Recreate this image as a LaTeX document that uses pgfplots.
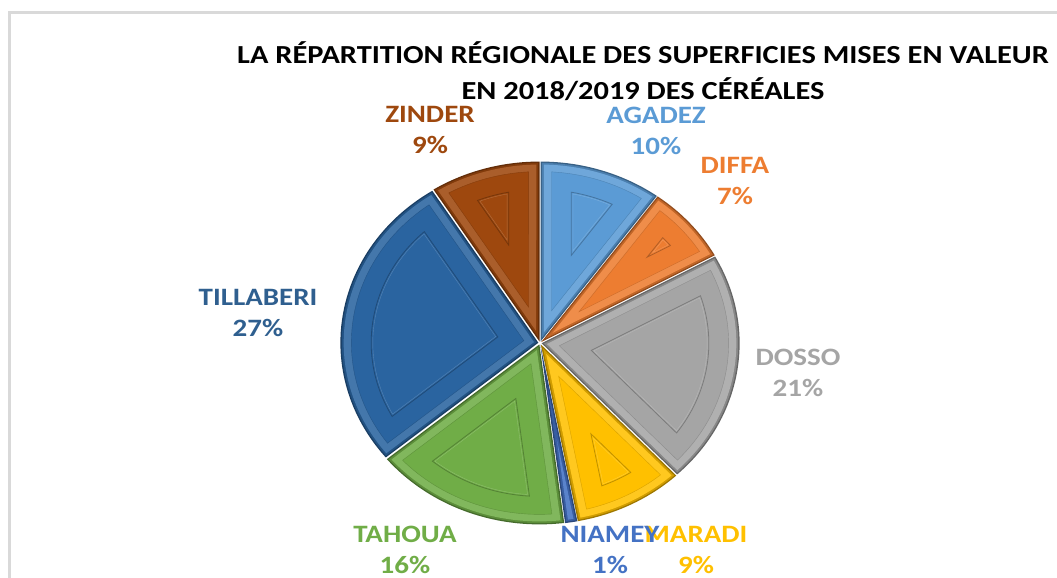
\documentclass[border=0pt]{standalone}
\usepackage{fontspec}
\setmainfont{Carlito}
\usepackage{pgfplots}
\usepackage{pgfplotstable}
\pgfplotsset{compat=1.18}

\definecolor{cAgadez}{HTML}{5B9BD5}
\definecolor{cDiffa}{HTML}{ED7D31}
\definecolor{cDosso}{HTML}{A5A5A5}
\definecolor{cMaradi}{HTML}{FFC000}
\definecolor{cNiamey}{HTML}{4472C4}
\definecolor{cTahoua}{HTML}{70AD47}
\definecolor{cTillaberi}{HTML}{2A64A0}
\definecolor{cZinder}{HTML}{9E480E}
\definecolor{tTillaberi}{HTML}{2F5F8F}
\definecolor{frame}{HTML}{D9D9D9}

\tikzset{lab/.style={font=\bfseries\fontsize{25}{31}\selectfont, align=center, xscale=1.16, inner sep=0pt}}

% regions in clockwise order from 12 o'clock, share in percent
\pgfplotstableread{
name      value col
AGADEZ    10    cAgadez
DIFFA     7     cDiffa
DOSSO     21    cDosso
MARADI    9     cMaradi
NIAMEY    1     cNiamey
TAHOUA    16    cTahoua
TILLABERI 27    cTillaberi
ZINDER    9     cZinder
}\piedata

\def\PieR{180}
% wedge between angles #1 (larger) and #2 (smaller), inset by #3 pt, style #4
\newcommand\wedgepath[4]{%
  \pgfmathsetmacro\wHw{(#1-#2)/2}%
  \pgfmathsetmacro\wMid{(#1+#2)/2}%
  \pgfmathsetmacro\wR{\PieR-#3}%
  \pgfmathsetmacro\wAp{#3/sin(\wHw)}%
  \pgfmathsetmacro\wDa{asin(#3/\wR)}%
  \pgfmathsetmacro\wEa{#2+\wDa}%
  \pgfmathsetmacro\wSa{#1-\wDa}%
  \pgfmathsetmacro\wOk{((\wAp<\wR-12)&&(\wEa<\wSa))?1:0}%
  \ifdim\wOk pt>0.5pt
    \path[#4] (\wMid:\wAp pt) -- (\wEa:\wR pt) arc[start angle=\wEa, end angle=\wSa, radius=\wR pt] -- cycle;
  \fi
}

\begin{document}
\begin{tikzpicture}
\begin{axis}[
  x=1pt, y=1pt,
  xmin=0, xmax=1057, ymin=0, ymax=578,
  hide axis, clip=false,
]
\coordinate (BL) at (axis cs:0,0);
\coordinate (TR) at (axis cs:1057,578);
% chart frame
\draw[frame, line width=2.5pt] (axis cs:9.5,-20) -- (axis cs:9.5,565.5) -- (axis cs:1090,565.5);

\pgfplotsextra{%
 \begin{scope}[shift={(axis cs:540,235)}, xscale=1.1]
  \gdef\cum{0}%
  \pgfplotsforeachungrouped \i in {0,...,7}{%
    \pgfplotstablegetelem{\i}{value}\of\piedata
    \let\sliceval\pgfplotsretval
    \pgfplotstablegetelem{\i}{col}\of\piedata
    \colorlet{base}{\pgfplotsretval}%
    \pgfmathsetmacro\aS{90-\cum*3.6}%
    \pgfmathsetmacro\aE{90-(\cum+\sliceval)*3.6}%
    \pgfmathsetmacro\cum{\cum+\sliceval}%
    \pgfmathsetmacro\aM{(\aS+\aE)/2}%
    \begin{scope}[shift={(\aM:1.5pt)}]
      \wedgepath{\aS}{\aE}{0}{fill=base!62!black}
      \wedgepath{\aS}{\aE}{1.3}{fill=base!82!black}
      \wedgepath{\aS}{\aE}{3}{fill=base!88!white}
      \wedgepath{\aS}{\aE}{10}{fill=base, draw=base!85!black, line width=0.4pt}
      \wedgepath{\aS}{\aE}{28}{draw=base!75!black, line width=0.8pt}
      \wedgepath{\aS}{\aE}{29.5}{draw=base!80!white, line width=0.4pt}
    \end{scope}
  }%
 \end{scope}
}

% title
\node[font=\bfseries\fontsize{26}{36}\selectfont, align=center, xscale=1.17, inner sep=0pt]
  at (axis cs:643,507) {LA RÉPARTITION RÉGIONALE DES SUPERFICIES MISES EN VALEUR\\EN 2018/2019 DES CÉRÉALES};

% data labels
\node[lab, text=cAgadez]    at (axis cs:656,447.5) {AGADEZ\\10\%};
\node[lab, text=cDiffa]     at (axis cs:735,396.5) {DIFFA\\7\%};
\node[lab, text=cDosso]     at (axis cs:798,205)   {DOSSO\\21\%};
\node[lab, text=cMaradi]    at (axis cs:696,28)    {MARADI\\9\%};
\node[lab, text=cNiamey]    at (axis cs:610,28)    {NIAMEY\\1\%};
\node[lab, text=cTahoua]    at (axis cs:405,28)    {TAHOUA\\16\%};
\node[lab, text=tTillaberi] at (axis cs:258,264.5) {TILLABERI\\27\%};
\node[lab, text=cZinder]    at (axis cs:430,447.5) {ZINDER\\9\%};
\end{axis}
\pgfresetboundingbox
\useasboundingbox (BL) rectangle (TR);
\end{tikzpicture}
\end{document}
